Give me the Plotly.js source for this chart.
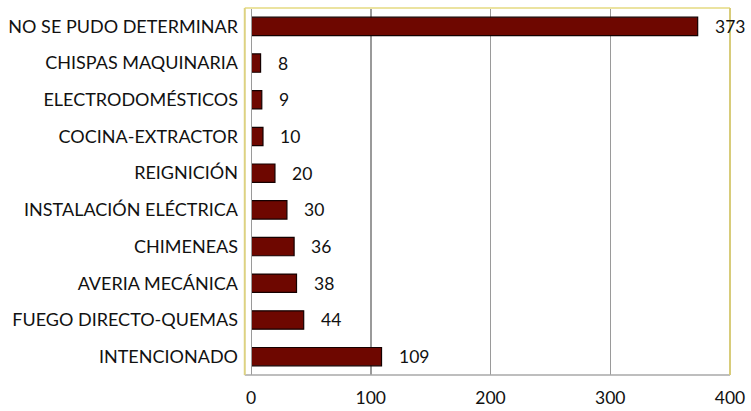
<!DOCTYPE html>
<html><head><meta charset="utf-8">
<script src="https://cdn.plot.ly/plotly-3.0.1.min.js"></script>
<style>html,body{margin:0;padding:0;background:#fff}</style>
</head><body>
<div id="chart" style="width:751px;height:411px"></div>
<script>
const categories = ["INTENCIONADO","FUEGO DIRECTO-QUEMAS","AVERIA MECÁNICA","CHIMENEAS","INSTALACIÓN ELÉCTRICA","REIGNICIÓN","COCINA-EXTRACTOR","ELECTRODOMÉSTICOS","CHISPAS MAQUINARIA","NO SE PUDO DETERMINAR"];
const values = [109,44,38,36,30,20,10,9,8,373];
const xTicks = [0,100,200,300,400];

const font = "Lato, 'Open Sans', sans-serif";
const trace = {
  type: "bar", orientation: "h", x: values, y: categories,
  marker: {color: "#6e0700", line: {color: "#140000", width: 1.2}},
  width: 0.5, hoverinfo: "none"
};
const annotations = values.map((v,i)=>({
  x: v, y: categories[i], xref: "x", yref: "y", text: String(v),
  showarrow: false, xanchor: "left", xshift: 15,
  font: {family: font, size: 17.5, color: "#111"}
}));
const layout = {
  width: 751, height: 411,
  margin: {l: 251, r: 21, t: 8, b: 36},
  paper_bgcolor: "#fff", plot_bgcolor: "#fff",
  showlegend: false,
  xaxis: {range: [0,400], tickvals: xTicks, ticktext: xTicks.map(String),
    showgrid: true, gridcolor: "#9a9a9a", gridwidth: 1.5, zeroline: false,
    showline: false, ticks: "", ticklabelstandoff: 10,
    tickfont: {family: font, size: 17.5, color: "#111"}, fixedrange: true},
  yaxis: {type: "category", categoryorder: "array", categoryarray: categories,
    showgrid: false, zeroline: false, showline: false, ticks: "",
    ticklabelstandoff: 12,
    tickfont: {family: font, size: 18, color: "#111"}, fixedrange: true},
  annotations: annotations,
  shapes: [
    {type:"line", xref:"x", yref:"paper", x0:0, x1:0, y0:0, y1:1, line:{color:"#9a9a9a", width:2}},
    {type:"line", xref:"paper", yref:"paper", x0:-0.013, x1:1, y0:0, y1:0, line:{color:"#a8a8a8", width:1.5}},
    {type:"line", xref:"paper", yref:"paper", x0:-0.013, x1:1, y0:1, y1:1, line:{color:"#ebe3a0", width:2}},
    {type:"line", xref:"paper", yref:"paper", x0:-0.013, x1:-0.013, y0:0, y1:1, line:{color:"#ddd282", width:2}},
    {type:"line", xref:"paper", yref:"paper", x0:1, x1:1, y0:0, y1:1, line:{color:"#d8cc7a", width:2}}
  ]
};
Plotly.newPlot("chart", [trace], layout, {displayModeBar: false, staticPlot: true});
</script>
</body></html>
